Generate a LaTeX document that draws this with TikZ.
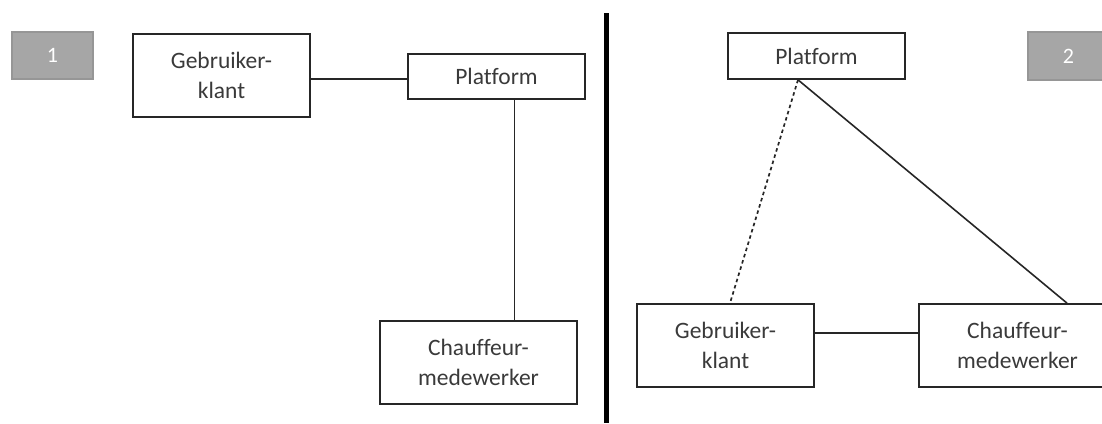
\documentclass[tikz,border=0pt]{standalone}
\usepackage{fontspec}
\setmainfont{Carlito}[Ligatures={NoCommon}]
\definecolor{txt}{HTML}{3A3A3A}
\definecolor{edge}{HTML}{262626}
\definecolor{greyfill}{HTML}{A6A6A6}
\definecolor{greyedge}{HTML}{969696}
\tikzset{
  entity/.style={draw=edge, line width=1.7pt, fill=white, text=txt, align=center,
    font=\fontsize{23.5}{30}\selectfont, inner sep=0pt},
  tag/.style={draw=greyedge, line width=1.2pt, fill=greyfill, text=white,
    font=\fontsize{22}{26}\selectfont, inner sep=0pt, minimum width=81pt, minimum height=47pt},
  link/.style={draw=edge, line width=1.6pt},
  dashlink/.style={draw=edge, line width=1.7pt, dash pattern=on 3.5pt off 3pt},
  divider/.style={draw=black, line width=4.8pt}
}
\begin{document}
\begin{tikzpicture}[x=1pt,y=-1pt]
\useasboundingbox (0,0) rectangle (1102,423);
% left panel
\node[tag] (g1) at (52.5,55.5) {1};
\node[entity, minimum width=177pt, minimum height=83pt] (gk1) at (221.5,75.5) {Gebruiker-\\klant};
\node[entity, minimum width=177pt, minimum height=45pt] (p1) at (496.5,76.5) {Platform};
\node[entity, minimum width=197pt, minimum height=83pt] (c1) at (478.5,362.5) {Chauffeur-\\medewerker};
\draw[link] ([yshift=-3.5pt]gk1.east) -- ([yshift=-3.5pt]gk1.east -| p1.west);
\draw[link] ([xshift=18pt]p1.south) -- ([xshift=18pt]p1.south |- c1.north);
% divider
\coordinate (dtop) at (606.5,13);
\coordinate (dbot) at (606.5,423);
\draw[divider] (dtop) -- (dbot);
% right panel
\node[entity, minimum width=177pt, minimum height=46pt] (p2) at (816.5,56) {Platform};
\node[tag, minimum height=48pt] (g2) at (1068.5,56) {2};
\node[entity, minimum width=177pt, minimum height=83pt] (gk2) at (725.5,345.5) {Gebruiker-\\klant};
\node[entity, minimum width=197pt, minimum height=83pt] (c2) at (1017.5,345.5) {Chauffeur-\\medewerker};
\draw[link] ([yshift=12.5pt]gk2.east) -- ([yshift=12.5pt]gk2.east -| c2.west);
\draw[dashlink] ([xshift=-18.5pt]p2.south) -- ([xshift=4.5pt]gk2.north);
\draw[link] ([xshift=-18.5pt]p2.south) -- ([xshift=49.5pt]c2.north);
\end{tikzpicture}
\end{document}
